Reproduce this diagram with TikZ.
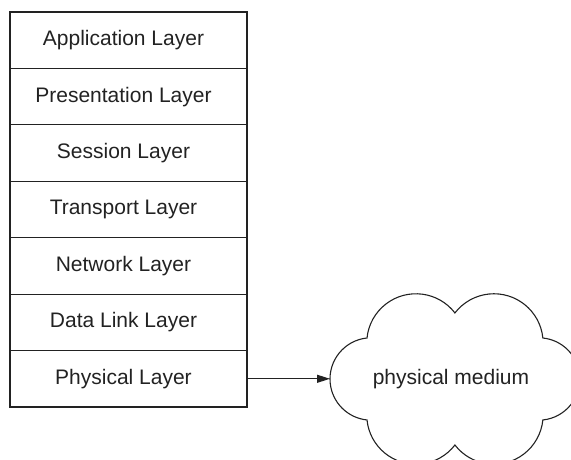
\documentclass[tikz,border=0pt]{standalone}
\usepackage{fontspec}
\setmainfont{Liberation Sans}
\usetikzlibrary{positioning,arrows.meta}
\definecolor{ink}{HTML}{222222}
\begin{document}
\begin{tikzpicture}[x=1pt,y=1pt,
  layer/.style={draw=ink, line width=1.1pt, minimum width=237pt, minimum height=56.43pt, inner sep=0pt, outer sep=0pt},
  lbl/.style={text=ink, font=\fontsize{21}{25}\selectfont, xshift=-5pt, inner sep=0pt},
  cloudline/.style={draw=ink, line width=1.1pt},
  arrow/.style={draw=ink, line width=1.1pt, -{Triangle[length=13pt,width=8pt]}}]
\useasboundingbox (0,0) rectangle (571,460);
\node[layer, label={[lbl]center:Application Layer}] (app) at (128.5,419.79) {};
\node[layer, below=0pt of app, label={[lbl]center:Presentation Layer}] (pres) {};
\node[layer, below=0pt of pres, label={[lbl]center:Session Layer}] (sess) {};
\node[layer, below=0pt of sess, label={[lbl]center:Transport Layer}] (trans) {};
\node[layer, below=0pt of trans, label={[lbl]center:Network Layer}] (net) {};
\node[layer, below=0pt of net, label={[lbl]center:Data Link Layer}] (dlink) {};
\node[layer, below=0pt of dlink, label={[lbl]center:Physical Layer}] (phys) {};
\begin{scope}[shift={(455,81)}]
  \draw[cloudline] (-88,41)
    arc[start angle=95.85, end angle=264.15, radius=41.2]
    arc[start angle=185.8, end angle=322.4, radius=49.2]
    arc[start angle=217.6, end angle=354.2, radius=49.2]
    arc[start angle=-84.15, end angle=84.15, radius=41.2]
    arc[start angle=5.8, end angle=142.4, radius=49.2]
    arc[start angle=37.6, end angle=174.2, radius=49.2] -- cycle;
  \coordinate (cloudL) at (-125,0);
  \node[text=ink, font=\fontsize{21}{25}\selectfont, inner sep=0pt] (medium) at (-4,0) {physical medium};
\end{scope}
\draw[arrow] (phys.east) -- (phys.east -| cloudL);
\end{tikzpicture}
\end{document}
